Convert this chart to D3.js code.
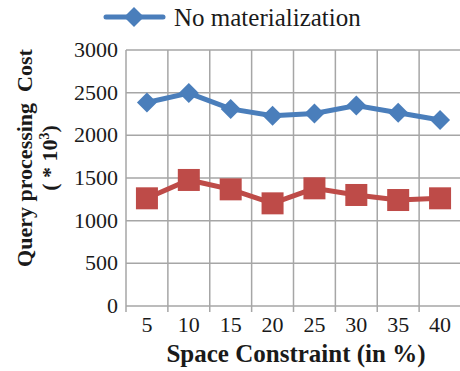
<!DOCTYPE html>
<html>
<head>
<meta charset="utf-8">
<script src="https://cdn.jsdelivr.net/npm/d3@7"></script>
<style>
  html, body { margin: 0; padding: 0; background: #fff; }
</style>
</head>
<body>
<svg id="chart" width="460" height="371"></svg>
<script>
// Space constraint levels (%) and query processing cost (x 10^3)
const categories = ["5", "10", "15", "20", "25", "30", "35", "40"];
const noMaterialization = [2385, 2495, 2310, 2230, 2255, 2350, 2265, 2180];
const withMaterialization = [1262, 1477, 1367, 1203, 1379, 1301, 1242, 1262];
const yTicks = [0, 500, 1000, 1500, 2000, 2500, 3000];

const FONT = "Liberation Serif";
const svg = d3.select("#chart");
const margin = { left: 126, top: 50, right: 461, bottom: 306 };

const x = d3.scaleBand().domain(categories).range([margin.left, margin.right]);
const y = d3.scaleLinear().domain([0, 3000]).range([margin.bottom, margin.top]);

const gridColor = "#a6a6a6";
const textColor = "#1a1a1a";

// horizontal gridlines
svg.append("g").selectAll("line").data(yTicks).join("line")
  .attr("x1", margin.left).attr("x2", margin.right)
  .attr("y1", d => y(d)).attr("y2", d => y(d))
  .attr("stroke", gridColor).attr("stroke-width", 1.5);

// vertical gridlines at band boundaries
const bounds = categories.map(c => x(c)).concat([x(categories[categories.length - 1]) + x.bandwidth()]);
svg.append("g").selectAll("line").data(bounds).join("line")
  .attr("x1", d => d).attr("x2", d => d)
  .attr("y1", margin.top).attr("y2", margin.bottom + 6)
  .attr("stroke", gridColor).attr("stroke-width", 1.5);

// y axis tick labels
svg.append("g").selectAll("text").data(yTicks).join("text")
  .attr("x", 118).attr("y", d => y(d) + 7)
  .attr("text-anchor", "end")
  .attr("font-family", FONT)
  .attr("font-size", 22).attr("fill", textColor)
  .text(d => d);

// x axis tick labels
svg.append("g").selectAll("text").data(categories).join("text")
  .attr("x", d => x(d) + x.bandwidth() / 2).attr("y", 332)
  .attr("text-anchor", "middle")
  .attr("font-family", FONT)
  .attr("font-size", 22).attr("fill", textColor)
  .text(d => d);

// axis titles
svg.append("text")
  .attr("x", 296).attr("y", 362)
  .attr("text-anchor", "middle")
  .attr("font-family", FONT)
  .attr("font-size", 25).attr("font-weight", "bold").attr("fill", textColor)
  .text("Space Constraint (in %)");

const yTitle = svg.append("g").attr("transform", "translate(0,158) rotate(-90)");
yTitle.append("text")
  .attr("x", 0).attr("y", 32)
  .attr("text-anchor", "middle")
  .attr("font-family", FONT)
  .attr("font-size", 22).attr("font-weight", "bold").attr("fill", textColor)
  .attr("xml:space", "preserve")
  .text("Query processing  Cost");
const l2 = yTitle.append("text")
  .attr("x", 0).attr("y", 57)
  .attr("text-anchor", "middle")
  .attr("font-family", FONT)
  .attr("font-size", 22).attr("font-weight", "bold").attr("fill", textColor);
l2.append("tspan").text("( * 10");
l2.append("tspan").attr("dy", -8).attr("font-size", 14).text("3");
l2.append("tspan").attr("dy", 8).text(")");

const cx = d => x(d) + x.bandwidth() / 2;
const line = d3.line().x(d => cx(d.c)).y(d => y(d.v));

const blue = "#4a7ebb", red = "#be4b48";
const blueData = categories.map((c, i) => ({ c, v: noMaterialization[i] }));
const redData = categories.map((c, i) => ({ c, v: withMaterialization[i] }));

// with-materialization series (squares)
svg.append("path").datum(redData).attr("d", line)
  .attr("fill", "none").attr("stroke", red).attr("stroke-width", 5);
svg.append("g").selectAll("rect").data(redData).join("rect")
  .attr("x", d => cx(d.c) - 11).attr("y", d => y(d.v) - 11)
  .attr("width", 22).attr("height", 22)
  .attr("fill", red);

// no-materialization series (diamonds)
const diamond = d3.symbol().type(d3.symbolSquare).size(200);
svg.append("path").datum(blueData).attr("d", line)
  .attr("fill", "none").attr("stroke", blue).attr("stroke-width", 5);
svg.append("g").selectAll("path").data(blueData).join("path")
  .attr("d", diamond)
  .attr("transform", d => `translate(${cx(d.c)},${y(d.v)}) rotate(45)`)
  .attr("fill", blue);

// legend
svg.append("line").attr("x1", 106).attr("x2", 163).attr("y1", 17).attr("y2", 17)
  .attr("stroke", blue).attr("stroke-width", 5).attr("stroke-linecap", "round");
svg.append("path").attr("d", diamond)
  .attr("transform", "translate(134,17) rotate(45)").attr("fill", blue);
svg.append("text").attr("x", 174).attr("y", 26)
  .attr("font-family", FONT)
  .attr("font-size", 25).attr("fill", textColor)
  .text("No materialization");
</script>
</body>
</html>
